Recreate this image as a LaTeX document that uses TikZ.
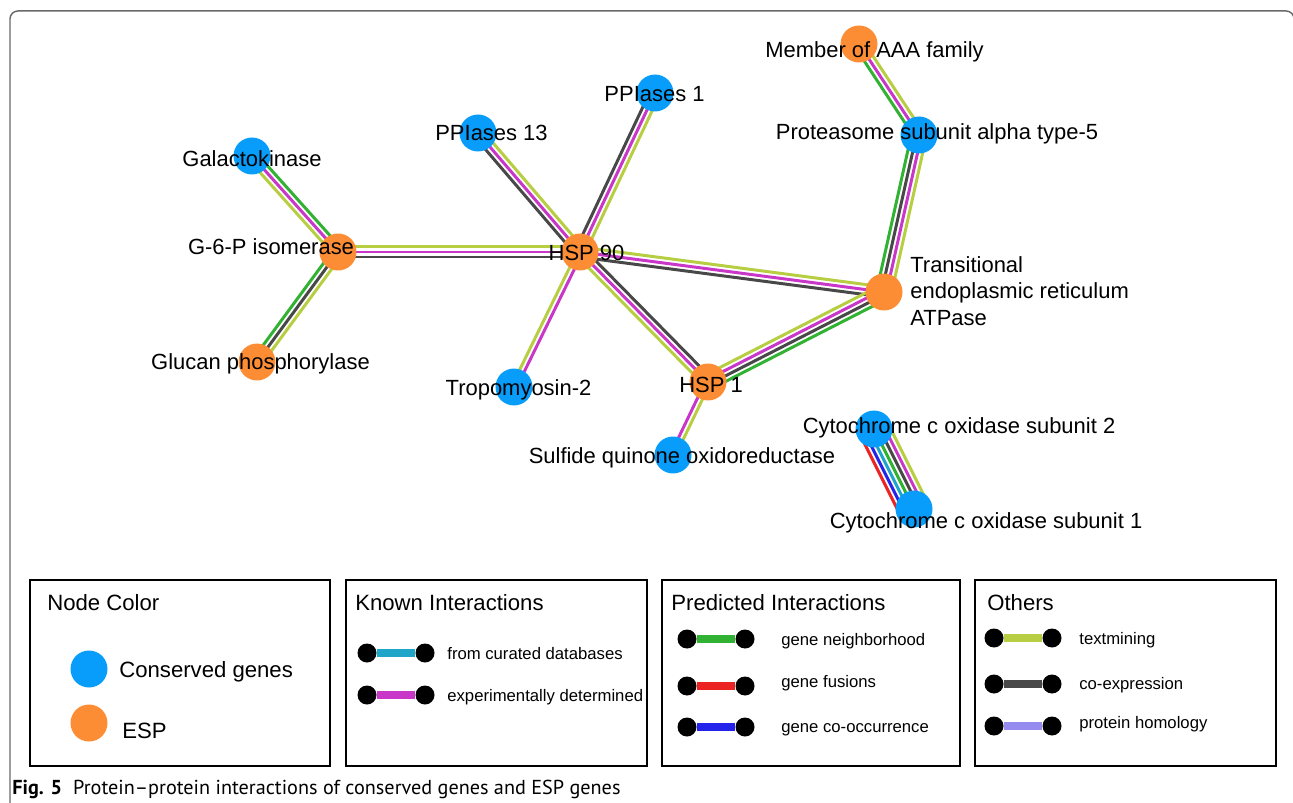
\documentclass[tikz,border=0pt]{standalone}
\usepackage{fontspec}
\setmainfont{Liberation Sans}
\newfontfamily\capfont[Ligatures=TeX]{PT Sans}
\usetikzlibrary{calc,backgrounds}

\definecolor{consblue}{RGB}{8,157,250}
\definecolor{esporange}{RGB}{252,141,52}
\definecolor{tmcol}{RGB}{184,206,66}
\definecolor{excol}{RGB}{200,55,200}
\definecolor{cocol}{RGB}{72,72,72}
\definecolor{nbcol}{RGB}{50,178,50}
\definecolor{dbcol}{RGB}{30,165,200}
\definecolor{occol}{RGB}{35,35,235}
\definecolor{fucol}{RGB}{235,35,35}
\definecolor{hocol}{RGB}{150,140,240}
\definecolor{framegray}{RGB}{105,105,105}

\begin{document}
\begin{tikzpicture}[x=0.02cm, y=-0.02cm,
  gene/.style={circle, inner sep=0pt, minimum size=0.74cm},
  cons/.style={gene, fill=consblue},
  esp/.style={gene, fill=esporange},
  lbl/.style={anchor=base, inner sep=0pt, font=\fontsize{12.5}{15.1}\selectfont},
  link/.style={line width=1.7pt},
  legbox/.style={draw=black, line width=1.1pt},
  legtitle/.style={anchor=base west, inner sep=0pt, font=\fontsize{12.6}{15}\selectfont},
  legtext/.style={anchor=base west, inner sep=0pt, font=\fontsize{9.5}{11}\selectfont},
  dot/.style={circle, fill=black, inner sep=0pt, minimum size=0.38cm},
  keyline/.style={line width=4pt},
]
\useasboundingbox (0,0) rectangle (1293,803);

% outer frame
\draw[framegray, line width=0.85pt, rounded corners=4.5pt]
  (10,810) -- (10,11) -- (1294,11) -- (1294,810);

% proteins
\node[esp]  (aaa)   at (859,44)  {};
\node[cons] (psma5) at (919,135) {};
\node[cons] (ppi1)  at (655,93)  {};
\node[cons] (ppi13) at (478,133) {};
\node[cons] (galk)  at (252,156) {};
\node[esp]  (gpi)   at (338,252) {};
\node[esp]  (hsp90) at (580,252) {};
\node[esp]  (ter)   at (884,292) {};
\node[esp]  (glup)  at (257,362) {};
\node[cons] (tpm2)  at (514,387) {};
\node[esp]  (hsp1)  at (708,382) {};
\node[cons] (sqor)  at (673,455) {};
\node[cons] (cox2)  at (874,429) {};
\node[cons] (cox1)  at (914,509) {};

% interactions, one line per evidence channel
\begin{scope}[on background layer]
\foreach \c/\o in {tmcol/2.85pt, excol/0pt, nbcol/-2.85pt}
  \draw[link, \c] ($(aaa)!\o!90:(psma5)$) -- ($(psma5)!\o!-90:(aaa)$);
\foreach \c/\o in {tmcol/4.27pt, excol/1.42pt, cocol/-1.42pt, nbcol/-4.27pt}
  \draw[link, \c] ($(psma5)!\o!90:(ter)$) -- ($(ter)!\o!-90:(psma5)$);
\foreach \c/\o in {tmcol/2.85pt, excol/0pt, cocol/-2.85pt}
  \draw[link, \c] ($(ppi13)!\o!90:(hsp90)$) -- ($(hsp90)!\o!-90:(ppi13)$);
\foreach \c/\o in {tmcol/2.85pt, excol/0pt, cocol/-2.85pt}
  \draw[link, \c] ($(ppi1)!\o!90:(hsp90)$) -- ($(hsp90)!\o!-90:(ppi1)$);
\foreach \c/\o in {nbcol/2.85pt, excol/0pt, tmcol/-2.85pt}
  \draw[link, \c] ($(galk)!\o!90:(gpi)$) -- ($(gpi)!\o!-90:(galk)$);
\foreach \c/\o in {tmcol/2.85pt, excol/0pt, cocol/-2.85pt}
  \draw[link, \c] ($(gpi)!\o!90:(hsp90)$) -- ($(hsp90)!\o!-90:(gpi)$);
\foreach \c/\o in {tmcol/2.85pt, cocol/0pt, nbcol/-2.85pt}
  \draw[link, \c] ($(gpi)!\o!90:(glup)$) -- ($(glup)!\o!-90:(gpi)$);
\foreach \c/\o in {tmcol/2.85pt, excol/0pt, cocol/-2.85pt}
  \draw[link, \c] ($(hsp90)!\o!90:(ter)$) -- ($(ter)!\o!-90:(hsp90)$);
\foreach \c/\o in {excol/1.42pt, tmcol/-1.42pt}
  \draw[link, \c] ($(hsp90)!\o!90:(tpm2)$) -- ($(tpm2)!\o!-90:(hsp90)$);
\foreach \c/\o in {cocol/2.85pt, excol/0pt, tmcol/-2.85pt}
  \draw[link, \c] ($(hsp90)!\o!90:(hsp1)$) -- ($(hsp1)!\o!-90:(hsp90)$);
\foreach \c/\o in {tmcol/4.27pt, excol/1.42pt, cocol/-1.42pt, nbcol/-4.27pt}
  \draw[link, \c] ($(hsp1)!\o!90:(ter)$) -- ($(ter)!\o!-90:(hsp1)$);
\foreach \c/\o in {tmcol/1.42pt, excol/-1.42pt}
  \draw[link, \c] ($(hsp1)!\o!90:(sqor)$) -- ($(sqor)!\o!-90:(hsp1)$);
\foreach \c/\o in {tmcol/8.54pt, excol/5.69pt, cocol/2.85pt, nbcol/0pt,
                   dbcol/-2.85pt, occol/-5.69pt, fucol/-8.54pt}
  \draw[link, \c] ($(cox2)!\o!90:(cox1)$) -- ($(cox1)!\o!-90:(cox2)$);
\end{scope}

% protein names
\node[lbl] (taaa)   at (874.5,58) {Member of AAA family};
\node[lbl] (tpsma5) at (937,140)  {Proteasome subunit alpha type-5};
\node[lbl] (tppi1)  at (654.5,102) {PPIases 1};
\node[lbl] (tppi13) at (491.5,141) {PPIases 13};
\node[lbl] (tgalk)  at (252,167)  {Galactokinase};
\node[lbl] (tgpi)   at (271,255)  {G-6-P isomerase};
\node[lbl] (thsp90) at (586.5,261) {HSP 90};
\node[lbl, anchor=north west, align=left] (tter) at (910,256)
  {Transitional\\endoplasmic reticulum\\ATPase};
\node[lbl] (tglup)  at (260.5,370) {Glucan phosphorylase};
\node[lbl] (ttpm2)  at (518.5,395) {Tropomyosin-2};
\node[lbl] (thsp1)  at (711,392)  {HSP 1};
\node[lbl] (tsqor)  at (682,463)  {Sulfide quinone oxidoreductase};
\node[lbl] (tcox2)  at (959,433)  {Cytochrome c oxidase subunit 2};
\node[lbl] (tcox1)  at (986,528)  {Cytochrome c oxidase subunit 1};

% legend: node colour
\draw[legbox] (30,580) rectangle (330,766);
\node[legtitle] (ncol) at (47,610) {Node Color};
\node[cons] (kcons) at (89,669) {};
\node[esp]  (kesp)  at (89,723) {};
\node[legtitle] (tkcons) at (119,677) {Conserved genes};
\node[legtitle] (tkesp)  at (122,738) {ESP};

% legend: known interactions
\draw[legbox] (346,580) rectangle (647,766);
\node[legtitle] (known) at (355,610) {Known Interactions};
\node[dot] (db1) at (367,653) {};
\node[dot] (db2) at (425,653) {};
\draw[keyline, dbcol] (db1) -- (db2);
\node[legtext] (tdb) at (447,659) {from curated databases};
\node[dot] (ex1) at (367,695) {};
\node[dot] (ex2) at (425,695) {};
\draw[keyline, excol] (ex1) -- (ex2);
\node[legtext] (tex) at (447,701) {experimentally determined};

% legend: predicted interactions
\draw[legbox] (662,580) rectangle (960,766);
\node[legtitle] (pred) at (671,610) {Predicted Interactions};
\node[dot] (nb1) at (687,639) {};
\node[dot] (nb2) at (745,639) {};
\draw[keyline, nbcol] (nb1) -- (nb2);
\node[legtext] (tnb) at (781,645) {gene neighborhood};
\node[dot] (fu1) at (687,686) {};
\node[dot] (fu2) at (745,686) {};
\draw[keyline, fucol] (fu1) -- (fu2);
\node[legtext] (tfu) at (781,687) {gene fusions};
\node[dot] (oc1) at (687,727) {};
\node[dot] (oc2) at (745,727) {};
\draw[keyline, occol] (oc1) -- (oc2);
\node[legtext] (toc) at (781,732) {gene co-occurrence};

% legend: others
\draw[legbox] (975,580) rectangle (1276,766);
\node[legtitle] (oth) at (987,610) {Others};
\node[dot] (tm1) at (994,638) {};
\node[dot] (tm2) at (1052,638) {};
\draw[keyline, tmcol] (tm1) -- (tm2);
\node[legtext] (ttm) at (1079,644) {textmining};
\node[dot] (co1) at (994,684) {};
\node[dot] (co2) at (1052,684) {};
\draw[keyline, cocol] (co1) -- (co2);
\node[legtext] (tco) at (1079,689) {co-expression};
\node[dot] (ho1) at (994,726) {};
\node[dot] (ho2) at (1052,726) {};
\draw[keyline, hocol] (ho1) -- (ho2);
\node[legtext] (tho) at (1079,728) {protein homology};

% caption
\node[anchor=base west, inner sep=0pt, font=\capfont\fontsize{11.5}{13}\selectfont]
  (caption) at (12,794)
  {\textbf{Fig. 5}\hspace{0.55em}Protein--protein interactions of conserved genes and ESP genes};
\end{tikzpicture}
\end{document}
